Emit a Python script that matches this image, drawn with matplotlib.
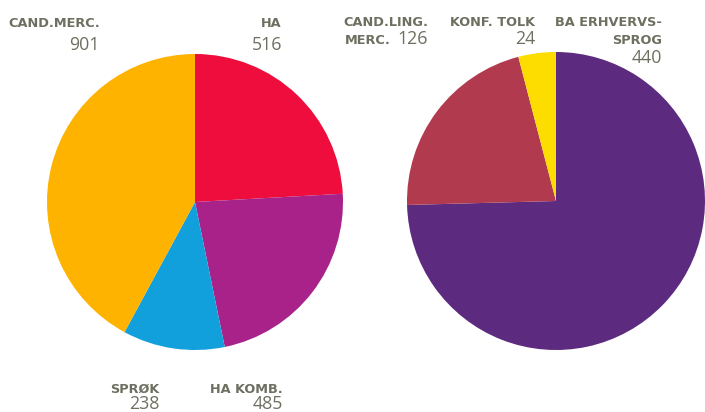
import matplotlib.pyplot as plt

# Studerende fordelt på uddannelser
left_labels = ["HA", "HA KOMB.", "SPRØK", "CAND.MERC."]
left_values = [516, 485, 238, 901]
left_colors = ["#ee0d3d", "#a8228a", "#12a0dc", "#fdb300"]

right_labels = ["BA ERHVERVSSPROG", "CAND.LING.MERC.", "KONF. TOLK"]
right_values = [440, 126, 24]
right_colors = ["#5c2a7e", "#b23a4e", "#fddc00"]

W, H = 705, 412
TXT = "#6d7060"

fig = plt.figure(figsize=(W / 100, H / 100), dpi=100)
ax = fig.add_axes([0, 0, 1, 1])

# start at 12 o'clock, go clockwise
ax.pie(left_values, colors=left_colors, startangle=90, counterclock=False,
       center=(195, H - 202), radius=148, wedgeprops=dict(linewidth=0))
ax.pie(right_values, colors=right_colors, startangle=90, counterclock=False,
       center=(556, H - 201), radius=149, wedgeprops=dict(linewidth=0))

ax.set_xlim(0, W)
ax.set_ylim(0, H)
ax.set_aspect("equal")
ax.axis("off")


def label(x, y, s, big=False, ha="right"):
    # x, y in pixels from top-left, y is the baseline
    if big:
        ax.text(x, H - y, s, ha=ha, va="baseline", fontsize=12.8,
                color=TXT, family="Open Sans")
    else:
        ax.text(x, H - y, s, ha=ha, va="baseline", fontsize=9.3,
                color=TXT, family="DejaVu Sans", fontweight="bold")


label(100, 27, "CAND.MERC.")
label(100, 50, str(left_values[3]), big=True)
label(282, 27, "HA")
label(282, 50, str(left_values[0]), big=True)
label(159, 393, "SPRØK")
label(159, 409, str(left_values[2]), big=True)
label(283, 393, "HA KOMB.")
label(283, 409, str(left_values[1]), big=True)

label(428, 26, "CAND.LING.")
label(345, 44, "MERC.", ha="left")
label(428, 44, str(right_values[1]), big=True)
label(535, 26, "KONF. TOLK")
label(535, 44, str(right_values[2]), big=True)
label(662, 26, "BA ERHVERVS-")
label(662, 44, "SPROG")
label(662, 63, str(right_values[0]), big=True)

fig.savefig("out.png", dpi=100)
